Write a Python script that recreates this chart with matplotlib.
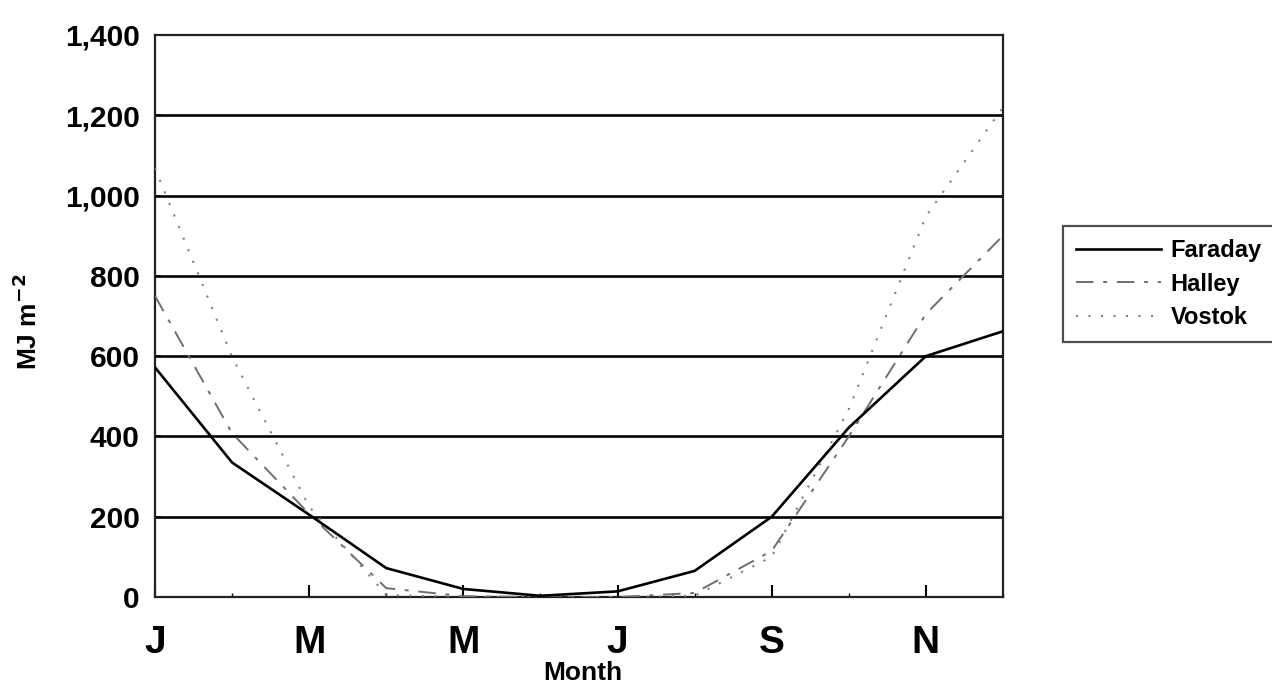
import matplotlib

matplotlib.use("Agg")
import matplotlib.pyplot as plt
from matplotlib.ticker import FuncFormatter, MultipleLocator

# Monthly global radiation totals (MJ m-2), January to December
months = list(range(12))
month_labels = ["J", "M", "M", "J", "S", "N"]
faraday = [572, 335, 205, 72, 20, 3, 14, 65, 200, 422, 600, 662]
halley = [750, 408, 207, 22, 2, 0, 0, 10, 115, 400, 705, 900]
vostok = [1068, 598, 225, 5, 0, 0, 0, 3, 100, 468, 948, 1220]

plt.rcParams["font.family"] = ["Liberation Sans", "DejaVu Sans"]
plt.rcParams["font.weight"] = "bold"

fig = plt.figure(figsize=(12.72, 6.88), dpi=100)
ax = fig.add_axes([155 / 1272, 1 - 597 / 688, 848 / 1272, 562 / 688])

for level in range(200, 1400, 200):
    ax.axhline(level, color="black", lw=1.9, zorder=1)

ax.plot(months, faraday, color="black", lw=1.9, label="Faraday", zorder=4)
ax.plot(months, halley, color="#6e6e6e", lw=1.4, ls=(0, (9, 5, 2, 5)), label="Halley", zorder=3)
ax.plot(months, vostok, color="#808080", lw=1.5, ls=(0, (1, 5)), label="Vostok", zorder=3)

ax.set_xlim(0, 11)
ax.set_ylim(0, 1400)
ax.xaxis.set_minor_locator(MultipleLocator(1))
ax.set_xticks(range(0, 12, 2), month_labels)
ax.yaxis.set_major_locator(MultipleLocator(200))
ax.yaxis.set_major_formatter(FuncFormatter(lambda v, _: f"{int(v):,}"))

ax.tick_params(axis="x", which="major", direction="in", length=9, width=1.5,
               labelsize=28, pad=20)
ax.tick_params(axis="x", which="minor", direction="in", length=3, width=1)
ax.tick_params(axis="y", direction="in", length=4, width=1.2, labelsize=21.5, pad=11)

for side in ["left", "bottom", "right", "top"]:
    ax.spines[side].set_linewidth(1.6)
    ax.spines[side].set_color("#222222")

ax.set_xlabel("Month", fontsize=19, fontweight="bold")
ax.xaxis.set_label_coords(0.505, -0.113)
ax.set_ylabel("MJ m$^{-2}$", fontsize=19, fontweight="bold")
ax.yaxis.set_label_coords(-0.133, 0.49)

leg = fig.legend(
    loc="upper left",
    bbox_to_anchor=(1063 / 1272, 1 - 226 / 688),
    frameon=True,
    fancybox=False,
    edgecolor="#222222",
    fontsize=17,
    handlelength=3.6,
    handletextpad=0.4,
    labelspacing=0.45,
    borderpad=0.55,
    borderaxespad=0,
)
leg.get_frame().set_linewidth(1.6)
for text in leg.get_texts():
    text.set_fontweight("bold")

fig.savefig("out.png", dpi=100)
